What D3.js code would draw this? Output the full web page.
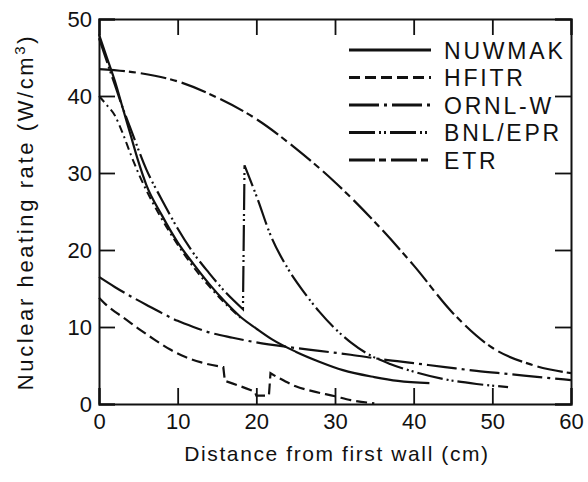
<!DOCTYPE html>
<html>
<head>
<meta charset="utf-8">
<script src="https://cdn.jsdelivr.net/npm/d3@7"></script>
<style>
  body { margin: 0; background: #fff; }
  text { font-family: "Liberation Sans", Arial, sans-serif; fill: #111; }
</style>
</head>
<body>
<div id="chart"></div>
<script>
// data: [distance cm, heating W/cm3]
const nuwmak = [[0,48],[1,45],[2,42],[3,38.5],[4,35],[5,31.5],[6,28.5],[8,24.5],[10,21],[12,18.2],[14,15.6],[16,13.3],[18,11.3],[20,9.8],[22,8.4],[25,6.8],[28,5.5],[31,4.4],[35,3.5],[38,3.0],[42,2.7]];
const hfitr = [[0,13.8],[1,12.8],[2,12],[3,11.3],[5,9.8],[7,8.4],[9,7.1],[11,6.1],[13,5.4],[15.8,4.8],[16,3.0],[18,2.3],[19.8,1.6],[20,1.1],[21.6,1.1],[21.8,4.0],[23,3.3],[25,2.3],[27,1.7],[30,1.0],[32,0.5],[35,0.1]];
const ornlW = [[0,16.5],[2,15.2],[4,14],[6,12.9],[8,11.8],[10,10.8],[12,10],[14,9.3],[17,8.6],[20,8],[24,7.4],[28,6.9],[32,6.4],[36,5.8],[40,5.3],[44,4.8],[48,4.3],[52,3.9],[56,3.5],[60,3.1]];
const bnlEpr = [[0,47.5],[1,44.5],[2,41.5],[3,38.5],[4,35.8],[6,30.5],[8,26.5],[10,22.8],[12,19.6],[14,17],[16,14.6],[18.3,12.3],[18.5,31],[20.2,26.5],[21.7,22.2],[24,17.6],[26,14.6],[28,12],[30,9.8],[32,8],[34,6.6],[37,5.2],[40,4.2],[44,3.2],[48,2.6],[52,2.2]];
const etr = [[0,43.5],[5,43],[10,41.9],[15,39.8],[20,37],[25,33.2],[30,28.8],[35,23.7],[40,18],[45,11.8],[50,7.3],[55,5.1],[60,4]];
const steepCurve = [[0,40],[1,38.8],[2,37.5],[3,35.2],[4,32.5],[5,30],[6,27.8],[8,24],[10,20.7],[12,17.8],[14,15.3],[16,13.1],[18,11.2]];

const seriesNames = ['NUWMAK', 'HFITR', 'ORNL-W', 'BNL/EPR', 'ETR'];
const xTicks = [0, 10, 20, 30, 40, 50, 60];
const yTicks = [0, 10, 20, 30, 40, 50];

const width = 588, height = 482;
const margin = { top: 19, right: 17, bottom: 78, left: 99 };
const w = width - margin.left - margin.right;
const h = height - margin.top - margin.bottom;

const svg = d3.select('#chart').append('svg')
    .attr('width', width)
    .attr('height', height);

const g = svg.append('g')
    .attr('transform', `translate(${margin.left},${margin.top})`);

const x = d3.scaleLinear().domain([0, 60]).range([0, w]);
const y = d3.scaleLinear().domain([0, 50]).range([h, 0]);

// inward ticks on all four sides
const tickLen = 16;
g.append('g').attr('transform', `translate(0,${h})`)
    .call(d3.axisBottom(x).tickValues(xTicks).tickSize(-tickLen).tickPadding(9).tickFormat(d3.format('d')));
g.append('g')
    .call(d3.axisTop(x).tickValues(xTicks).tickSize(-tickLen).tickFormat(''));
g.append('g')
    .call(d3.axisLeft(y).tickValues(yTicks).tickSize(-tickLen).tickPadding(7).tickFormat(d3.format('d')));
g.append('g').attr('transform', `translate(${w},0)`)
    .call(d3.axisRight(y).tickValues(yTicks).tickSize(-tickLen).tickFormat(''));

g.selectAll('.domain').attr('stroke', '#111').attr('stroke-width', 2);
g.selectAll('.tick line').attr('stroke', '#111').attr('stroke-width', 1.8);
g.selectAll('.tick text').style('font-size', '22px').attr('fill', '#111');

// line styles
const styles = [
    { data: nuwmak, dash: null },
    { data: hfitr, dash: '11,5' },
    { data: ornlW, dash: '30,5,3,5' },
    { data: bnlEpr, dash: '26,4,2,3,2,4' },
    { data: etr, dash: '26,4,7,5' }
];

const line = d3.line()
    .x(d => x(d[0]))
    .y(d => y(d[1]))
    .curve(d3.curveMonotoneX);

// split at near-vertical jumps so the smooth curve does not bulge there
function pathFor(data) {
    const pieces = [[data[0]]];
    for (let i = 1; i < data.length; i++) {
        const prev = data[i - 1], cur = data[i];
        if (cur[0] - prev[0] < 0.5) pieces.push([cur]);
        else pieces[pieces.length - 1].push(cur);
    }
    return pieces.map((p, i) => {
        const d = p.length > 1 ? line(p) : `M${x(p[0][0])},${y(p[0][1])}`;
        return i === 0 ? d : 'L' + d.slice(1);
    }).join('');
}

styles.forEach(s => {
    g.append('path')
        .attr('d', pathFor(s.data))
        .attr('fill', 'none')
        .attr('stroke', '#111')
        .attr('stroke-width', 2.2)
        .attr('stroke-dasharray', s.dash);
});

// extra steep curve near the wall
g.append('path')
    .attr('d', pathFor(steepCurve))
    .attr('fill', 'none')
    .attr('stroke', '#111')
    .attr('stroke-width', 2)
    .attr('stroke-dasharray', '8,4,2,4');

// legend
const legend = svg.append('g');
seriesNames.forEach((name, i) => {
    const ly = 50 + i * 27.5;
    legend.append('line')
        .attr('x1', 349).attr('x2', 431)
        .attr('y1', ly).attr('y2', ly)
        .attr('stroke', '#111')
        .attr('stroke-width', 2.8)
        .attr('stroke-dasharray', styles[i].dash);
    legend.append('text')
        .attr('x', 444).attr('y', ly + 8.5)
        .style('font-size', '23px')
        .style('letter-spacing', '2.8px')
        .text(name);
});

// axis titles
svg.append('text')
    .attr('x', 337).attr('y', 461)
    .attr('text-anchor', 'middle')
    .style('font-size', '21px')
    .style('letter-spacing', '1.6px')
    .text('Distance from first wall (cm)');

const yt = svg.append('text')
    .attr('transform', 'translate(33,212) rotate(-90)')
    .attr('text-anchor', 'middle')
    .style('font-size', '22px')
    .style('letter-spacing', '2.6px');
yt.append('tspan').text('Nuclear heating rate (W/cm');
yt.append('tspan').attr('dy', -8).style('font-size', '15px').text('3');
yt.append('tspan').attr('dy', 8).text(')');
</script>
</body>
</html>
